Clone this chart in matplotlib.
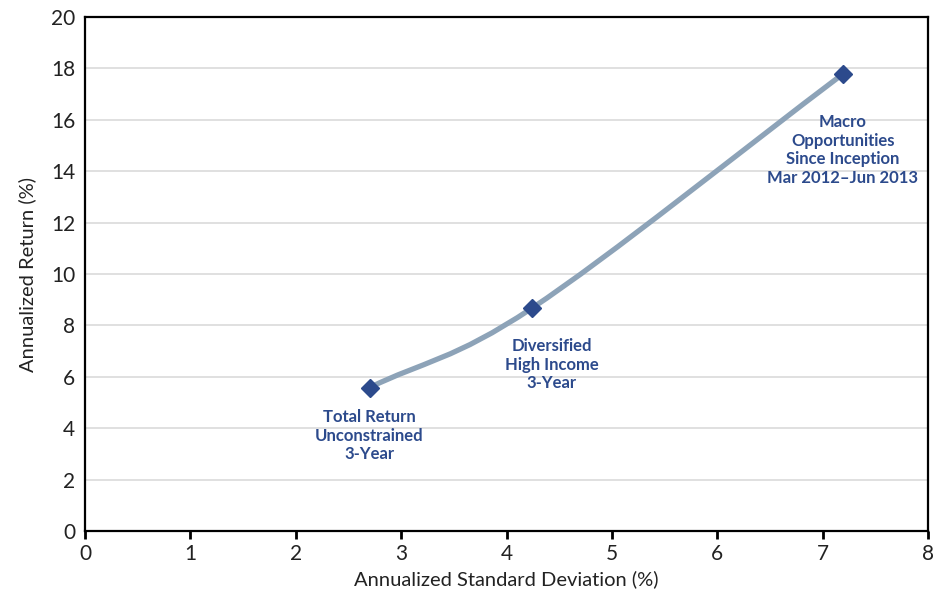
import matplotlib.pyplot as plt
from matplotlib.path import Path
from matplotlib.patches import PathPatch

# Data
std_dev = [2.70, 4.24, 7.19]
returns = [5.58, 8.67, 17.78]
labels = ["Total Return\nUnconstrained\n3-Year",
          "Diversified\nHigh Income\n3-Year",
          "Macro\nOpportunities\nSince Inception\nMar 2012\u2013Jun 2013"]
x_ticks = [0, 1, 2, 3, 4, 5, 6, 7, 8]
y_ticks = [0, 2, 4, 6, 8, 10, 12, 14, 16, 18, 20]

plt.rcParams['font.family'] = ['Lato', 'DejaVu Sans']

line_color = '#8DA3B8'
marker_color = '#2C4A8C'
text_color = '#2C4A8C'


def smooth_path(xs, ys, tension=0.5):
    # Catmull-Rom style curve through the points, as cubic bezier segments
    pts = list(zip(xs, ys))
    n = len(pts)
    # reflect the end points so the curve leaves each end smoothly
    first = (2 * pts[0][0] - pts[1][0], 2 * pts[0][1] - pts[1][1])
    last = (2 * pts[-1][0] - pts[-2][0], 2 * pts[-1][1] - pts[-2][1])
    ext = [first] + pts + [last]
    verts = [pts[0]]
    codes = [Path.MOVETO]
    for i in range(1, n):
        p0, p1, p2, p3 = ext[i - 1], ext[i], ext[i + 1], ext[i + 2]
        c1 = (p1[0] + (p2[0] - p0[0]) * tension / 3, p1[1] + (p2[1] - p0[1]) * tension / 3)
        c2 = (p2[0] - (p3[0] - p1[0]) * tension / 3, p2[1] - (p3[1] - p1[1]) * tension / 3)
        verts += [c1, c2, p2]
        codes += [Path.CURVE4, Path.CURVE4, Path.CURVE4]
    return Path(verts, codes)


fig = plt.figure(figsize=(9.36, 5.99), dpi=100)
ax = fig.add_axes([0.0908, 0.1135, 0.9007, 0.858])

ax.add_patch(PathPatch(smooth_path(std_dev, returns), facecolor='none',
                       edgecolor=line_color, lw=3.8, capstyle='round', zorder=3))
ax.plot(std_dev, returns, linestyle='none', marker='D', markersize=9.5,
        color=marker_color, zorder=4)

# annotations
label_pos = [(2.70, 4.75), (4.43, 7.5), (7.19, 16.22)]
for (lx, ly), txt in zip(label_pos, labels):
    ax.text(lx, ly, txt, ha='center', va='top', fontsize=12, fontweight='bold',
            color=text_color, linespacing=1.2, zorder=5)

ax.set_xlim(0, 8)
ax.set_ylim(0, 20)
ax.set_xticks(x_ticks)
ax.set_yticks(y_ticks)
ax.tick_params(axis='x', direction='out', length=6, width=2, labelsize=15, colors='#222222', pad=3)
ax.tick_params(axis='y', length=0, labelsize=15, colors='#222222', pad=7)
ax.tick_params(axis='x', color='black')

for s in ax.spines.values():
    s.set_linewidth(1.6)
    s.set_color('black')

ax.set_axisbelow(True)
for y in y_ticks[1:-1]:
    ax.axhline(y, color='#DDDDDD', lw=1.3, zorder=0)

ax.set_xlabel('Annualized Standard Deviation (%)', fontsize=14.5, color='#222222', labelpad=5)
ax.set_ylabel('Annualized Return (%)', fontsize=14.5, color='#222222', labelpad=11)

fig.savefig('out.png', dpi=100)
